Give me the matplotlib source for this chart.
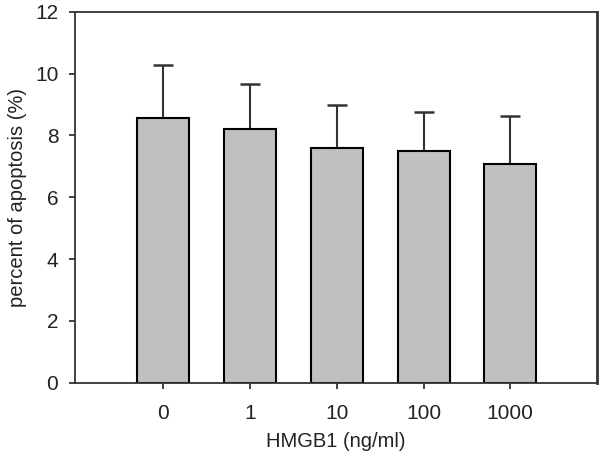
import numpy as np
import matplotlib
matplotlib.use("Agg")
import matplotlib.pyplot as plt

plt.rcParams['font.family'] = ['Liberation Sans', 'DejaVu Sans']

# data
doses = ["0", "1", "10", "100", "1000"]
apoptosis = [8.55, 8.22, 7.61, 7.50, 7.09]
err_up = [1.74, 1.43, 1.39, 1.27, 1.53]

fig = plt.figure(figsize=(6, 4.53), dpi=100)
ax = fig.add_axes([0.125, 0.155, 0.87, 0.819])

x = np.arange(len(doses))
ax.bar(x, apoptosis, width=0.6, color="#c0c0c0", edgecolor="black", linewidth=1.5, zorder=2)
ax.errorbar(x, apoptosis, yerr=[np.zeros(len(x)), err_up], fmt="none",
            ecolor="#333333", elinewidth=1.5, capsize=7.5, capthick=1.8, zorder=1)

ax.set_xlim(-1.02, 5.0)
ax.set_ylim(0, 12)
ax.set_yticks(range(0, 13, 2))
ax.set_xticks(x)
ax.set_xticklabels(doses)
ax.tick_params(axis="both", direction="out", length=4, width=1.2, labelsize=15,
               colors="#222222", pad=8)
ax.tick_params(axis="x", pad=11)
for s in ax.spines.values():
    s.set_color("#333333")
    s.set_linewidth(1.3)
ax.spines["right"].set_linewidth(2)

ax.set_xlabel("HMGB1 (ng/ml)", fontsize=14.5, color="#222222", labelpad=7)
ax.set_ylabel("percent of apoptosis (%)", fontsize=14.5, color="#222222", labelpad=6)

plt.savefig("out.png", dpi=100)
